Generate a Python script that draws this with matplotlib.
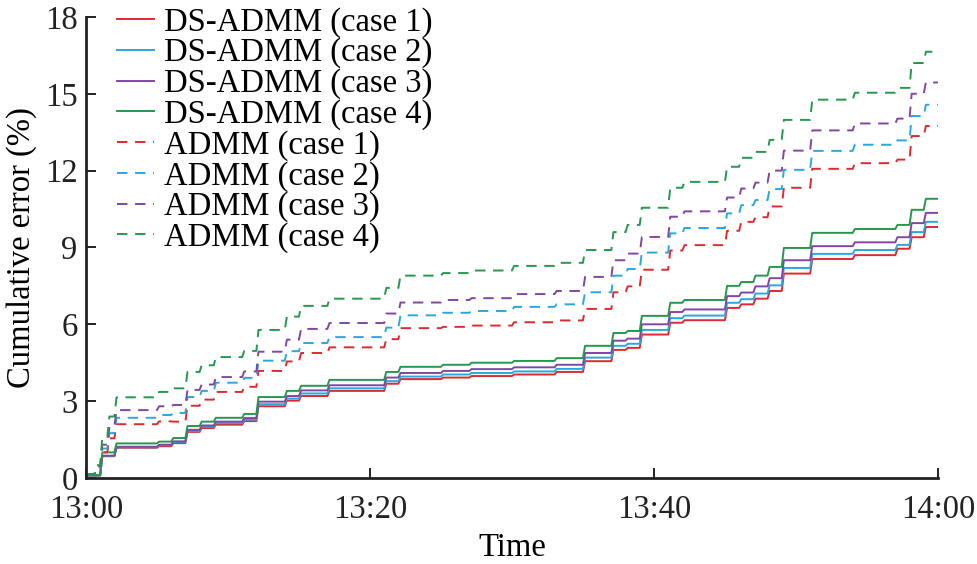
import matplotlib
matplotlib.use("Agg")
import matplotlib.pyplot as plt
import numpy as np

plt.rcParams['font.family'] = ['Liberation Serif', 'DejaVu Serif']
plt.rcParams['lines.scale_dashes'] = False

# jump times (minutes after 13:00)
jump_times = [0, 0.6, 1, 1.5, 2, 5, 6, 7, 8, 9, 11, 12, 14, 15, 17, 21, 22, 25, 27, 30,
              33, 35, 37, 38, 39, 41, 42, 45, 46, 47, 48, 49, 51, 54, 57, 58, 59]

# levels after each jump (%)
ds_case1 = [0.1, 0.1, 0.85, 0.85, 1.18, 1.24, 1.36, 1.8, 1.95, 2.08, 2.22, 2.8, 3.02, 3.2, 3.4,
            3.68, 3.86, 3.92, 3.98, 4.04, 4.14, 4.56, 5.0, 5.08, 5.6, 6.06, 6.16, 6.64, 6.78,
            7.0, 7.3, 7.98, 8.55, 8.7, 8.95, 9.4, 9.8]
ds_case2 = [0.1, 0.1, 0.86, 0.86, 1.2, 1.28, 1.4, 1.84, 2.0, 2.14, 2.28, 2.88, 3.1, 3.3, 3.5,
            3.78, 3.96, 4.04, 4.1, 4.16, 4.26, 4.7, 5.16, 5.24, 5.78, 6.24, 6.34, 6.84, 6.98,
            7.2, 7.52, 8.2, 8.75, 8.9, 9.1, 9.6, 10.0]
ds_case3 = [0.1, 0.1, 0.87, 0.87, 1.22, 1.3, 1.43, 1.88, 2.05, 2.2, 2.34, 2.98, 3.2, 3.42, 3.62,
            3.92, 4.1, 4.18, 4.25, 4.32, 4.42, 4.88, 5.36, 5.44, 6.0, 6.48, 6.58, 7.1, 7.24,
            7.48, 7.8, 8.5, 9.05, 9.2, 9.4, 9.95, 10.35]
ds_case4 = [0.12, 0.12, 1.0, 1.0, 1.35, 1.42, 1.56, 2.03, 2.2, 2.35, 2.5, 3.16, 3.4, 3.6, 3.83,
            4.14, 4.34, 4.42, 4.5, 4.57, 4.68, 5.16, 5.66, 5.74, 6.33, 6.84, 6.95, 7.5, 7.65,
            7.9, 8.24, 8.98, 9.57, 9.72, 9.88, 10.47, 10.9]

ad_case1 = [0.15, 0.35, 1.0, 1.55, 2.1, 2.21, 2.2, 2.82, 3.06, 3.36, 3.56, 4.18, 4.55, 4.88,
            5.1, 5.42, 5.85, 5.9, 5.95, 6.08, 6.15, 6.6, 7.25, 7.48, 8.13, 8.88, 9.09, 9.65,
            10.0, 10.18, 10.6, 11.33, 12.07, 12.29, 12.43, 13.35, 13.74]
ad_case2 = [0.15, 0.4, 1.15, 1.75, 2.35, 2.46, 2.54, 3.16, 3.4, 3.72, 3.91, 4.58, 4.95, 5.27,
            5.5, 5.87, 6.35, 6.45, 6.52, 6.68, 6.78, 7.25, 7.9, 8.16, 8.8, 9.55, 9.76, 10.33,
            10.65, 10.85, 11.28, 12.03, 12.77, 13.01, 13.18, 14.13, 14.57]
ad_case3 = [0.15, 0.45, 1.3, 2.0, 2.65, 2.8, 2.85, 3.44, 3.65, 3.94, 4.16, 4.93, 5.4, 5.82,
            6.05, 6.42, 6.85, 6.95, 7.02, 7.18, 7.3, 7.85, 8.5, 8.76, 9.41, 10.2, 10.41, 10.95,
            11.3, 11.53, 12.0, 12.78, 13.57, 13.84, 14.03, 15.0, 15.44]
ad_case4 = [0.15, 0.5, 1.6, 2.4, 3.15, 3.36, 3.5, 4.14, 4.4, 4.72, 4.96, 5.78, 6.3, 6.72,
            7.0, 7.42, 7.9, 8.0, 8.1, 8.28, 8.4, 8.9, 9.6, 9.88, 10.55, 11.33, 11.56, 12.15,
            12.5, 12.73, 13.2, 13.98, 14.77, 15.04, 15.23, 16.2, 16.64]

labels = ['DS-ADMM (case 1)', 'DS-ADMM (case 2)', 'DS-ADMM (case 3)', 'DS-ADMM (case 4)',
          'ADMM (case 1)', 'ADMM (case 2)', 'ADMM (case 3)', 'ADMM (case 4)']
colors = ['#DD2A2E', '#28A8DE', '#8246A2', '#24994E']

x_ticks = [0, 20, 40, 60]
x_ticklabels = ['13:00', '13:20', '13:40', '14:00']
y_ticks = [0, 3, 6, 9, 12, 15, 18]
t_end = 60


def staircase(times, levels, width=0.15):
    xs, ys = [times[0]], [levels[0]]
    for k in range(1, len(times)):
        xs += [times[k], times[k] + width]
        ys += [levels[k - 1], levels[k]]
    xs.append(t_end)
    ys.append(levels[-1])
    return np.array(xs), np.array(ys)


FS = 23.5
fig = plt.figure(figsize=(9.77, 5.64), dpi=100)
ax = fig.add_axes([0.088, 0.1525, 0.872, 0.8175])

solid = [ds_case1, ds_case2, ds_case3, ds_case4]
dashed = [ad_case1, ad_case2, ad_case3, ad_case4]
for i, s in enumerate(solid):
    x, y = staircase(jump_times, s)
    ax.plot(x, y, color=colors[i], lw=1.4, label=labels[i])
for i, s in enumerate(dashed):
    x, y = staircase(jump_times, s)
    ax.plot(x, y, color=colors[i], lw=1.4, dashes=(7.5, 5.5), label=labels[4 + i])

ax.set_xlim(0, 60)
ax.set_ylim(0, 18)
ax.set_xticks(x_ticks)
ax.set_xticklabels(x_ticklabels)
ax.set_yticks(y_ticks)
for sp in ['top', 'right']:
    ax.spines[sp].set_visible(False)
for sp in ['left', 'bottom']:
    ax.spines[sp].set_linewidth(2.0)
    ax.spines[sp].set_color('#222222')
ax.tick_params(direction='in', length=7, width=1.4, labelsize=FS, pad=6, colors='#222222')
ax.tick_params(axis='x', pad=12)
ax.set_xlabel('Time', fontsize=FS, labelpad=5)
ax.set_ylabel('Cumulative error (%)', fontsize=FS, labelpad=6)

leg = ax.legend(loc='upper left', bbox_to_anchor=(0.036, 1.022), frameon=False,
                fontsize=FS, handlelength=1.15, handletextpad=0.3,
                labelspacing=0.0, borderaxespad=0.0, borderpad=0.0)

fig.savefig('out.png', dpi=100)
